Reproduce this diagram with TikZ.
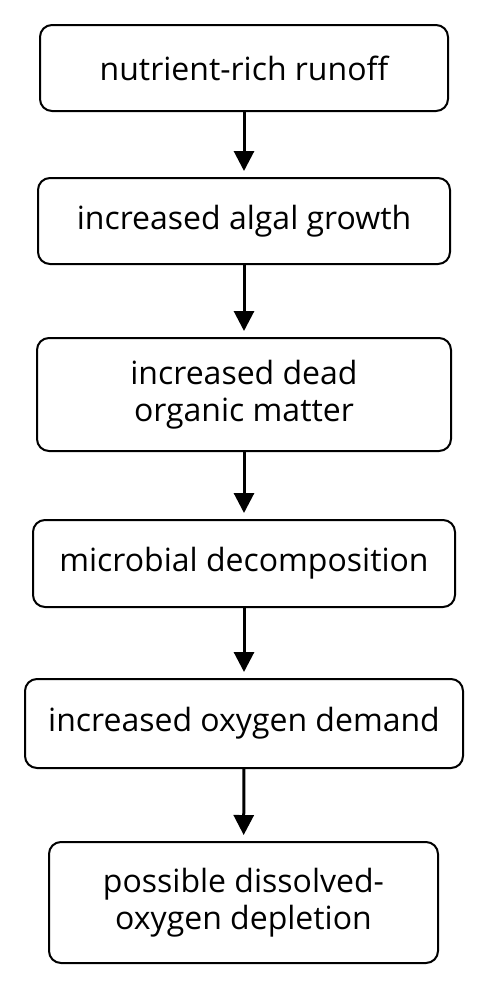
\documentclass[tikz,border=0pt]{standalone}
\usepackage{fontspec}
\setmainfont{Open Sans}
\usepackage{tikz}
\tikzset{every node/.style={draw, rectangle, rounded corners=12pt, line width=2pt, inner sep=0pt, align=center, font=\fontsize{32}{37}\selectfont}}
\usetikzlibrary{arrows.meta}

\begin{document}
\begin{tikzpicture}[x=1pt, y=-1pt]
\useasboundingbox[fill=white] (0,0) rectangle (488,989);

\node[minimum width=408pt, minimum height=86pt] (runoff) at (244,68) {nutrient-rich runoff};
\node[minimum width=412pt, minimum height=86pt] (algae) at (244,221) {increased algal growth};
\node[minimum width=414pt, minimum height=113pt] (dead) at (244,394.5) {increased dead\\organic matter};
\node[minimum width=422pt, minimum height=87pt] (microbe) at (244,563.5) {microbial decomposition};
\node[minimum width=438pt, minimum height=89pt] (demand) at (244,723.5) {increased oxygen demand};
\node[minimum width=389pt, minimum height=121pt] (depletion) at (243.5,902.5) {possible dissolved-\\oxygen depletion};

\begin{scope}[line width=3pt, -{Triangle[width=20pt, length=20pt]}, shorten >=6pt]
\draw (runoff) -- (algae);
\draw (algae) -- (dead);
\draw (dead) -- (microbe);
\draw (microbe) -- (demand);
\draw (demand) -- (depletion);
\end{scope}

\end{tikzpicture}
\end{document}
